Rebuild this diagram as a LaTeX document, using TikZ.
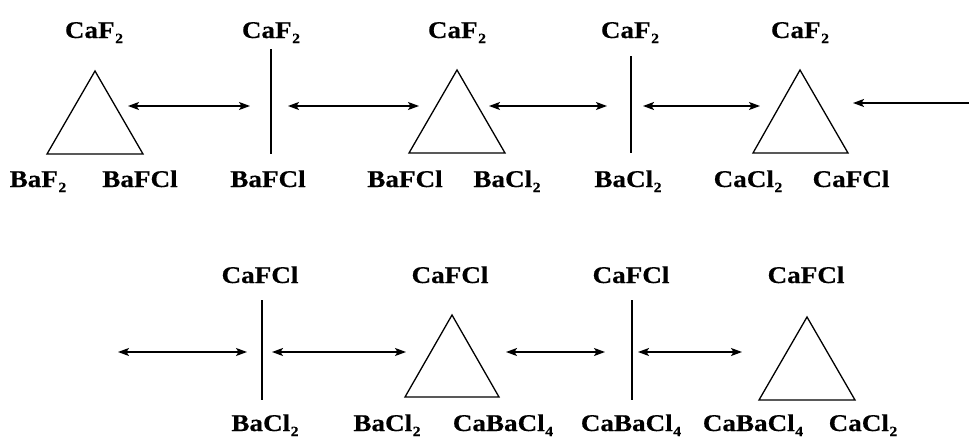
\documentclass[tikz,border=0pt]{standalone}
\usepackage{fontspec}
\setmainfont{Liberation Serif}[FakeStretch=1.13,BoldFeatures={FakeBold=0.4}]
\usetikzlibrary{arrows.meta}
\newcommand\sbs[1]{\hspace{0.5pt}\raisebox{-5pt}{\fontsize{14}{14}\selectfont #1}}
\tikzset{
  lab/.style={anchor=base, inner sep=0pt, font=\fontsize{24}{26}\selectfont\bfseries},
  shp/.style={line width=1.3pt, line join=miter},
  dbl/.style={line width=1.3pt, {Stealth[length=11pt,width=8pt,inset=2.5pt]}-{Stealth[length=11pt,width=8pt,inset=2.5pt]}},
  sgl/.style={line width=1.3pt, -{Stealth[length=11pt,width=8pt,inset=2.5pt]}}
}
\begin{document}
\begin{tikzpicture}[x=1pt,y=-1pt]
\useasboundingbox (0,0) rectangle (969,439);
% ---- row 1 shapes
\draw[shp] (95,71) coordinate (t1) -- (143,154) -- (47,154) -- cycle;
\draw[shp] (271,49) coordinate (l1t) -- (271,154) coordinate (l1b);
\draw[shp] (457,70) coordinate (t2) -- (505,153) -- (409,153) -- cycle;
\draw[shp] (631,56) coordinate (l2t) -- (631,153) coordinate (l2b);
\draw[shp] (800,70) coordinate (t3) -- (848,153) -- (753,153) -- cycle;
% ---- row 1 arrow ends
\coordinate (a1s) at (128,106); \coordinate (a1e) at (250,106);
\coordinate (a2s) at (288,106); \coordinate (a2e) at (419,106);
\coordinate (a3s) at (489,106); \coordinate (a3e) at (607,106);
\coordinate (a4s) at (643,106); \coordinate (a4e) at (760,106);
\coordinate (a5s) at (969,103); \coordinate (a5e) at (853,103);
\draw[dbl] (a1s) -- (a1e);
\draw[dbl] (a2s) -- (a2e);
\draw[dbl] (a3s) -- (a3e);
\draw[dbl] (a4s) -- (a4e);
\draw[sgl] (a5s) -- (a5e);
% ---- row 1 labels
\node[lab] (c1) at (94,38) {CaF\sbs{2}};
\node[lab] (c2) at (271,38) {CaF\sbs{2}};
\node[lab] (c3) at (457,38) {CaF\sbs{2}};
\node[lab] (c4) at (630,38) {CaF\sbs{2}};
\node[lab] (c5) at (800,38) {CaF\sbs{2}};
\node[lab] (b1) at (38,187) {BaF\sbs{2}};
\node[lab] (b2) at (140,187) {BaFCl};
\node[lab] (b3) at (268,187) {BaFCl};
\node[lab] (b4) at (405,187) {BaFCl};
\node[lab] (b5) at (507,187) {BaCl\sbs{2}};
\node[lab] (b6) at (628,187) {BaCl\sbs{2}};
\node[lab] (b7) at (748,187) {CaCl\sbs{2}};
\node[lab] (b8) at (851,187) {CaFCl};
% ---- row 2 shapes
\draw[shp] (262,300) coordinate (l3t) -- (262,400) coordinate (l3b);
\draw[shp] (452,315) coordinate (t4) -- (499,397) -- (405,397) -- cycle;
\draw[shp] (632,300) coordinate (l4t) -- (632,400) coordinate (l4b);
\draw[shp] (807,317) coordinate (t5) -- (855,400) -- (759,400) -- cycle;
% ---- row 2 arrows
\coordinate (a6s) at (118,352); \coordinate (a6e) at (247,352);
\coordinate (a7s) at (272,352); \coordinate (a7e) at (406,352);
\coordinate (a8s) at (506,352); \coordinate (a8e) at (605,352);
\coordinate (a9s) at (638,352); \coordinate (a9e) at (742,352);
\draw[dbl] (a6s) -- (a6e);
\draw[dbl] (a7s) -- (a7e);
\draw[dbl] (a8s) -- (a8e);
\draw[dbl] (a9s) -- (a9e);
% ---- row 2 labels
\node[lab] (d1) at (260,283) {CaFCl};
\node[lab] (d2) at (450,283) {CaFCl};
\node[lab] (d3) at (631,283) {CaFCl};
\node[lab] (d4) at (806,283) {CaFCl};
\node[lab] (e1) at (265,431) {BaCl\sbs{2}};
\node[lab] (e2) at (387,431) {BaCl\sbs{2}};
\node[lab] (e3) at (503,431) {CaBaCl\sbs{4}};
\node[lab] (e4) at (631,431) {CaBaCl\sbs{4}};
\node[lab] (e5) at (753,431) {CaBaCl\sbs{4}};
\node[lab] (e6) at (863,431) {CaCl\sbs{2}};
\end{tikzpicture}
\end{document}
